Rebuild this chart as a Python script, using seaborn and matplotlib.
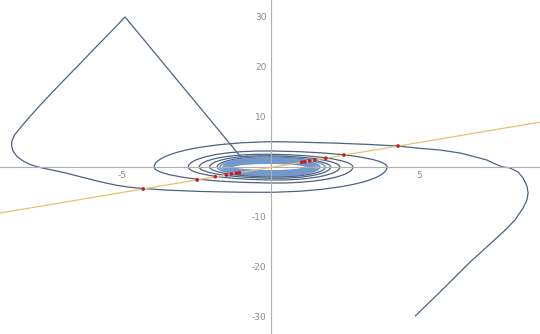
import matplotlib
matplotlib.use("Agg")
import matplotlib.pyplot as plt
import seaborn as sns
import pandas as pd
from matplotlib.patches import Arc
from matplotlib.ticker import FixedLocator

# ---------------- data ----------------
# outer arm starting top-left (includes the straight segment from the centre)
armB_tail_x = [-1.0, -4.90, -5.40, -5.91, -6.41, -6.92, -7.42, -7.83, -8.16, -8.43,
               -8.62, -8.71, -8.72, -8.67, -8.54, -8.33, -8.10, -7.83, -7.37, -6.85,
               -6.31, -5.74, -5.24, -4.73, -4.29, -3.5, -2.4, -1.6, -1.0, -0.25]
armB_tail_y = [2.0, 30.0, 26.9, 23.8, 20.7, 17.6, 14.5, 11.9, 9.7, 7.8,
               6.4, 5.2, 4.2, 3.2, 2.1, 1.2, 0.5, 0.0, -0.6, -1.26,
               -2.1, -2.94, -3.6, -4.06, -4.3, -4.62, -4.88, -5.0, -5.04, -5.06]
# outer arm starting bottom-right
armA_tail_x = [4.87, 5.6, 6.72, 7.83, 8.23, 8.5, 8.63, 8.67, 8.63, 8.5, 8.33, 8.06,
               7.78, 7.53, 7.28, 6.9, 6.38, 5.7, 5.03, 4.26, 3.35, 2.24, 1.1, 0.25]
armA_tail_y = [-29.8, -25.6, -19.0, -13.0, -10.6, -8.2, -6.6, -5.2, -3.8, -2.2, -1.0, -0.2,
               0.06, 0.7, 1.4, 2.0, 2.8, 3.4, 3.73, 4.2, 4.5, 4.76, 4.95, 5.06]

# spiral half-turns: axis crossing reached and turning point (apex) of each half-turn
A_cross = [-3.92, 2.77, -2.40, 2.02, -1.80, 1.66, -1.60, 1.52, -1.50, 1.42, -1.42,
           1.34, -1.36, 1.26, -1.32, 1.18]
A_apex_x = [0.25, 0.25, -0.25, 0.25, -0.2, 0.1, -0.1, 0.1, -0.1, 0.1, -0.1,
            0.1, -0.1, 0.1, -0.1, 0.1]
A_apex_y = [5.06, -3.2, 2.55, -2.25, 2.0, -1.85, 1.72, -1.6, 1.5, -1.38, 1.28,
            -1.16, 1.05, -0.95, 0.85, -0.75]
B_cross = [3.92, -2.77, 2.33, -2.05, 1.84, -1.70, 1.60, -1.56, 1.48, -1.46, 1.38,
           -1.40, 1.30, -1.34, 1.22, -1.30]
B_apex_x = [-0.25, -0.25, 0.25, -0.25, 0.2, -0.1, 0.1, -0.1, 0.1, -0.1, 0.1,
            -0.1, 0.1, -0.1, 0.1, -0.1]
B_apex_y = [-5.06, 3.2, -2.6, 2.25, -2.0, 1.85, -1.72, 1.6, -1.5, 1.38, -1.28,
            1.16, -1.05, 0.95, -0.85, 0.75]

# straight reference line
line_x = [-9.2, 9.2]
line_y = [-9.3, 9.1]

# intersection points
dots_x = [4.29, 2.47, 1.86, 1.49, 1.32, 1.15, 1.05,
          -4.29, -2.47, -1.86, -1.49, -1.32, -1.15, -1.05]
dots_y = [4.2, 2.4, 1.75, 1.4, 1.2, 1.05, 0.95,
          -4.4, -2.6, -1.95, -1.6, -1.4, -1.25, -1.15]

x_major = [-5, 5]
y_major = [-30, -20, -10, 10, 20, 30]

# ---------------- styling ----------------
sns.set_style("white")
plt.rcParams['font.family'] = ['DejaVu Sans']

DARK = "#4d6282"
LIGHT = "#7199cb"
AXIS = "#b0b0b0"
LABEL = "#8a8a8a"

fig = plt.figure(figsize=(5.4, 3.34), dpi=100)
ax = fig.add_axes([0, 0, 1, 1])
ax.set_xlim(-9.11, 9.07)
ax.set_ylim(-33.4, 33.4)


def quarter(ax, start_x, apex_x, apex_y, color, lw):
    """Quarter ellipse between an axis crossing and the apex of a half-turn."""
    w = 2 * abs(apex_x - start_x)
    h = 2 * abs(apex_y)
    if apex_y > 0:
        t1, t2 = (0, 90) if start_x > apex_x else (90, 180)
    else:
        t1, t2 = (270, 360) if start_x > apex_x else (180, 270)
    ax.add_patch(Arc((apex_x, 0), w, h, theta1=t1, theta2=t2,
                     color=color, lw=lw, zorder=2))


def spiral(ax, cross, apx, apy, n_dark):
    for i in range(len(cross)):
        color = DARK if i < n_dark else LIGHT
        lw = 0.9 if i < n_dark else 1.1
        if i > 0:
            quarter(ax, cross[i - 1], apx[i], apy[i], color, lw)
        quarter(ax, cross[i], apx[i], apy[i], color, lw)


tailA = pd.DataFrame({"x": armA_tail_x, "y": armA_tail_y})
tailB = pd.DataFrame({"x": armB_tail_x, "y": armB_tail_y})
sns.lineplot(data=tailA, x="x", y="y", sort=False, estimator=None, color=DARK,
             lw=0.9, ax=ax, zorder=2)
sns.lineplot(data=tailB, x="x", y="y", sort=False, estimator=None, color=DARK,
             lw=0.9, ax=ax, zorder=2)
spiral(ax, A_cross, A_apex_x, A_apex_y, 5)
spiral(ax, B_cross, B_apex_x, B_apex_y, 5)

sns.lineplot(x=line_x, y=line_y, color="#e8c36a", lw=0.9, ax=ax, zorder=3)
sns.scatterplot(x=dots_x, y=dots_y, color="#c41a2e", s=7, edgecolor="none",
                ax=ax, zorder=4)

# Mathematica-like axes through the origin
for side in ["top", "right"]:
    ax.spines[side].set_visible(False)
for side in ["left", "bottom"]:
    ax.spines[side].set_position(("data", 0))
    ax.spines[side].set_color(AXIS)
    ax.spines[side].set_linewidth(0.8)

ax.xaxis.set_major_locator(FixedLocator(x_major))
ax.xaxis.set_minor_locator(FixedLocator([v for v in range(-9, 10) if v not in (0, -5, 5)]))
ax.yaxis.set_major_locator(FixedLocator(y_major))
ax.yaxis.set_minor_locator(FixedLocator([v for v in range(-32, 33, 2) if v % 10 != 0]))
ax.set_xticklabels([str(v) for v in x_major])
ax.set_yticklabels([str(v) for v in y_major])
ax.tick_params(which="major", direction="in", length=4, width=0.7, color=AXIS,
               labelsize=6.5, labelcolor=LABEL, pad=3)
ax.tick_params(which="minor", direction="in", length=2.2, width=0.6, color=AXIS)
ax.set_xlabel("")
ax.set_ylabel("")
ax.grid(False)

fig.savefig("out.png", dpi=100)
